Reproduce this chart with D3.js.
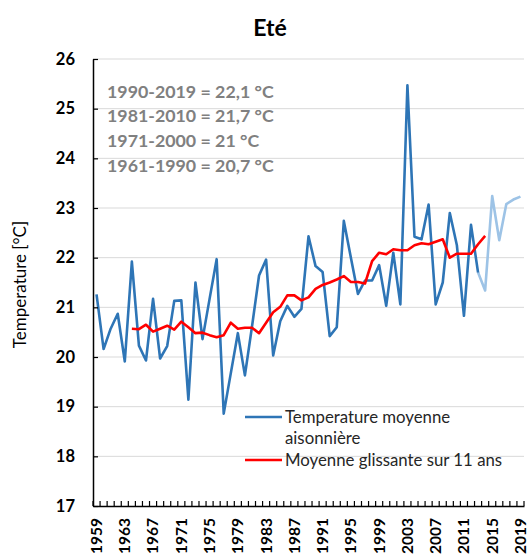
<!DOCTYPE html>
<html>
<head>
<meta charset="utf-8">
<script src="https://cdn.jsdelivr.net/npm/d3@7"></script>
<style>
  html, body { margin: 0; padding: 0; background: #fff; }
  svg { display: block; font-family: Lato, "Liberation Sans", sans-serif; }
</style>
</head>
<body>
<svg id="chart" width="531" height="558"></svg>
<script>
const years = d3.range(1959, 2020);
const tempYears = d3.range(1959, 2014);
const tempValues = [21.26, 20.16, 20.57, 20.87, 19.91, 21.92, 20.23, 19.93, 21.17, 19.97,
  20.22, 21.13, 21.14, 19.14, 21.50, 20.36, 21.17, 21.97, 18.86, 19.67,
  20.48, 19.63, 20.61, 21.64, 21.96, 20.03, 20.72, 21.03, 20.81, 20.97,
  22.43, 21.83, 21.71, 20.42, 20.60, 22.74, 22.00, 21.27, 21.54, 21.54,
  21.85, 21.03, 22.10, 21.06, 25.47, 22.42, 22.37, 23.07, 21.06, 21.50,
  22.90, 22.25, 20.83, 22.66, 21.70];
const recentYears = d3.range(2013, 2020);
const recentValues = [21.70, 21.34, 23.24, 22.35, 23.08, 23.17, 23.23];
const avgYears = d3.range(1964, 2015);
const avgValues = [20.57, 20.56, 20.65, 20.51, 20.57, 20.63, 20.55, 20.71, 20.60, 20.48,
  20.49, 20.44, 20.40, 20.44, 20.69, 20.57, 20.59, 20.59, 20.48, 20.69,
  20.90, 21.01, 21.24, 21.24, 21.14, 21.20, 21.37, 21.45, 21.50, 21.56,
  21.63, 21.51, 21.51, 21.48, 21.93, 22.10, 22.07, 22.17, 22.15, 22.15,
  22.25, 22.29, 22.27, 22.32, 22.37, 22.00, 22.08, 22.08, 22.08, 22.27,
  22.44];
const yTicks = [17, 18, 19, 20, 21, 22, 23, 24, 25, 26];
const xLabelYears = d3.range(1959, 2020, 4);
const normals = ["1990-2019 = 22,1 °C", "1981-2010 = 21,7 °C", "1971-2000 = 21 °C", "1961-1990 = 20,7 °C"];
const legendItems = [
  { lines: ["Temperature moyenne", "aisonnière"], color: "#2e75b6" },
  { lines: ["Moyenne glissante sur 11 ans"], color: "#ff0000" }
];
const title = "Eté";
const yTitle = "Temperature [°C]";

const svg = d3.select("#chart");
const pLeft = 93, pRight = 524, pTop = 59, pBottom = 506;

const x = d3.scaleBand().domain(years).range([pLeft, pRight]).padding(0);
const cx = d => x(d) + x.bandwidth() / 2;
const y = d3.scaleLinear().domain([17, 26]).range([pBottom, pTop]);

// gridlines
svg.append("g").selectAll("line").data(yTicks.slice(1)).join("line")
  .attr("x1", pLeft).attr("x2", pRight)
  .attr("y1", d => y(d)).attr("y2", d => y(d))
  .attr("stroke", "#d9d9d9").attr("stroke-width", 1);

// title
svg.append("text").attr("x", 270).attr("y", 36).attr("text-anchor", "middle")
  .attr("font-size", 23).attr("font-weight", "bold").attr("fill", "#000").text(title);

// y axis title
svg.append("text").attr("transform", `translate(26,${(pTop + pBottom) / 2 + 2}) rotate(-90)`)
  .attr("text-anchor", "middle").attr("font-size", 17).attr("fill", "#000").text(yTitle);

// normals annotation
svg.append("g").selectAll("text").data(normals).join("text")
  .attr("x", 107).attr("y", (d, i) => 97.5 + i * 24.8)
  .attr("font-size", 17.8).attr("font-weight", "bold").attr("fill", "#808080")
  .text(d => d);

// lines
const line = d3.line().x(d => cx(d[0])).y(d => y(d[1]));
svg.append("path").datum(recentYears.map((yr, i) => [yr, recentValues[i]]))
  .attr("d", line).attr("fill", "none").attr("stroke", "#9dc3e6")
  .attr("stroke-width", 2.6).attr("stroke-linejoin", "round");
svg.append("path").datum(tempYears.map((yr, i) => [yr, tempValues[i]]))
  .attr("d", line).attr("fill", "none").attr("stroke", "#2e75b6")
  .attr("stroke-width", 2.6).attr("stroke-linejoin", "round");
svg.append("path").datum(avgYears.map((yr, i) => [yr, avgValues[i]]))
  .attr("d", line).attr("fill", "none").attr("stroke", "#ff0000")
  .attr("stroke-width", 2.6).attr("stroke-linejoin", "round");

// y axis
const yAxis = svg.append("g").attr("transform", `translate(${pLeft},0)`)
  .call(d3.axisLeft(y).tickValues(yTicks).tickSizeInner(-5).tickSizeOuter(0).tickPadding(18));
yAxis.select(".domain").attr("stroke", "#000").attr("stroke-width", 1.5);
yAxis.selectAll(".tick line").attr("stroke", "#000").attr("stroke-width", 1.2);
yAxis.selectAll(".tick text").attr("font-size", 16.5).attr("font-weight", "bold")
  .attr("fill", "#000").attr("font-family", "Lato, 'Liberation Sans', sans-serif");

// x axis
const xAxis = svg.append("g").attr("transform", `translate(0,${pBottom})`)
  .call(d3.axisBottom(x).tickValues(xLabelYears).tickSize(0).tickPadding(0));
xAxis.select(".domain").attr("stroke", "#000").attr("stroke-width", 1.5);
xAxis.selectAll(".tick text")
  .attr("transform", "translate(0,12) rotate(-90)")
  .attr("dy", "0.35em").attr("x", 0).attr("y", 0)
  .attr("text-anchor", "end")
  .attr("font-size", 15.5).attr("font-weight", "bold").attr("fill", "#000")
  .attr("font-family", "Lato, 'Liberation Sans', sans-serif");
// category boundary ticks
svg.append("g").selectAll("line").data(years.concat([null])).join("line")
  .attr("x1", d => d === null ? pRight : x(d)).attr("x2", d => d === null ? pRight : x(d))
  .attr("y1", pBottom).attr("y2", pBottom - 5)
  .attr("stroke", "#000").attr("stroke-width", 1.2);

// legend
const lg = svg.append("g");
let ly = 417;
legendItems.forEach((item) => {
  lg.append("line").attr("x1", 245).attr("x2", 282).attr("y1", ly).attr("y2", ly)
    .attr("stroke", item.color).attr("stroke-width", 2.6);
  item.lines.forEach((t, j) => {
    lg.append("text").attr("x", 285).attr("y", ly + 5.8 + j * 21.5)
      .attr("font-size", 16.8).attr("fill", "#262626").text(t);
  });
  ly += item.lines.length * 21.5;
});
</script>
</body>
</html>
